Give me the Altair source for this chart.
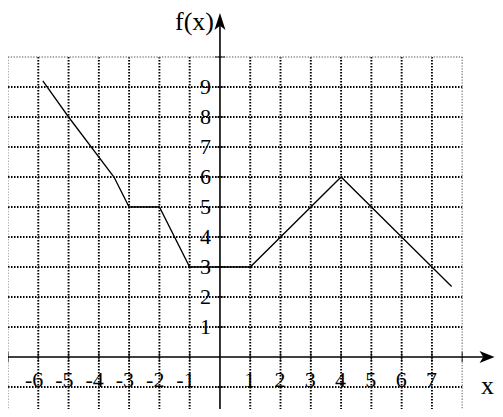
import altair as alt
import pandas as pd

# ---- data ----
fx_x = [-5.85, -5, -3.5, -3, -2, -1, 1, 4, 7, 7.65]
fx_y = [9.2, 8, 6, 5, 5, 3, 3, 6, 3, 2.35]

x_tick_labels = [-6, -5, -4, -3, -2, -1, 1, 2, 3, 4, 5, 6, 7]
y_tick_labels = [1, 2, 3, 4, 5, 6, 7, 8, 9]

grid_x = [-6, -5, -4, -3, -2, -1, 1, 2, 3, 4, 5, 6, 7]
grid_y = [-1, 1, 2, 3, 4, 5, 6, 7, 8, 9]
edge_x = [-7, 8]
edge_y = [10]
grid_bottom = -2
grid_top = 10
grid_left = -7
grid_right = 8

axis_tick_x = [-7, -6, -5, -4, -3, -2, -1, 1, 2, 3, 4, 5, 6, 7, 8]
axis_tick_y = [-1, 1, 2, 3, 4, 5, 6, 7, 8, 9, 10]

FONT = "Liberation Serif"

XS = alt.Scale(domain=[-7.0, 9.083], nice=False, zero=False)
YS = alt.Scale(domain=[-1.733, 11.633], nice=False, zero=False)


def X(f):
    return alt.X(f, type="quantitative", scale=XS, axis=None)


def Y(f):
    return alt.Y(f, type="quantitative", scale=YS, axis=None)


vgrid = pd.DataFrame({"x": grid_x, "y1": [grid_top] * len(grid_x), "y2": [grid_bottom] * len(grid_x)})
hgrid = pd.DataFrame({"y": grid_y, "x1": [grid_left] * len(grid_y), "x2": [grid_right] * len(grid_y)})
vedge = pd.DataFrame({"x": edge_x, "y1": [grid_top] * len(edge_x), "y2": [grid_bottom] * len(edge_x)})
hedge = pd.DataFrame({"y": edge_y, "x1": [grid_left] * len(edge_y), "x2": [grid_right] * len(edge_y)})

DOT = dict(color="black", strokeWidth=1.9, strokeDash=[1.5, 1.5])
EDGE = dict(color="#8a8a8a", strokeWidth=1.4, strokeDash=[1.3, 1.5])

vg = alt.Chart(vgrid).mark_rule(**DOT).encode(x=X("x"), y=Y("y1"), y2="y2")
hg = alt.Chart(hgrid).mark_rule(**DOT).encode(y=Y("y"), x=X("x1"), x2="x2")
ve = alt.Chart(vedge).mark_rule(**EDGE).encode(x=X("x"), y=Y("y1"), y2="y2")
he = alt.Chart(hedge).mark_rule(**EDGE).encode(y=Y("y"), x=X("x1"), x2="x2")

# axes
xaxis = alt.Chart(pd.DataFrame({"x1": [-7.0], "x2": [8.7], "y": [0]})).mark_rule(
    color="black", strokeWidth=1.6).encode(x=X("x1"), x2="x2", y=Y("y"))
yaxis = alt.Chart(pd.DataFrame({"y1": [-1.733], "y2": [11.1], "x": [0]})).mark_rule(
    color="black", strokeWidth=1.6).encode(y=Y("y1"), y2="y2", x=X("x"))

xticks = alt.Chart(pd.DataFrame({"x": axis_tick_x, "y": [0] * len(axis_tick_x)})).mark_tick(
    color="black", orient="vertical", size=10, thickness=1.3).encode(x=X("x"), y=Y("y"))
yticks = alt.Chart(pd.DataFrame({"y": axis_tick_y, "x": [0] * len(axis_tick_y)})).mark_tick(
    color="black", orient="horizontal", size=10, thickness=1.3).encode(x=X("x"), y=Y("y"))

xarrow = alt.Chart(pd.DataFrame({"x": [8.82], "y": [0]})).mark_point(
    shape="M1,0 L-1,-0.8 L-0.5,0 L-1,0.8 Z", filled=True, color="black", opacity=1,
    size=225, strokeWidth=0).encode(x=X("x"), y=Y("y"))
yarrow = alt.Chart(pd.DataFrame({"x": [0], "y": [11.18]})).mark_point(
    shape="M0,-1 L0.65,1 L0,0.5 L-0.65,1 Z", filled=True, color="black", opacity=1,
    size=289, strokeWidth=0).encode(x=X("x"), y=Y("y"))

# function
fline = alt.Chart(pd.DataFrame({"x": fx_x, "y": fx_y, "o": list(range(len(fx_x)))})).mark_line(
    color="black", strokeWidth=1.3).encode(x=X("x"), y=Y("y"), order="o:Q")

# labels
xlab = alt.Chart(pd.DataFrame({"x": x_tick_labels, "y": [0] * len(x_tick_labels),
                               "t": [str(v) for v in x_tick_labels]})).mark_text(
    font=FONT, fontSize=22, align="right", baseline="middle", dx=5, dy=23, color="black").encode(
    x=X("x"), y=Y("y"), text="t:N")
ylab = alt.Chart(pd.DataFrame({"y": y_tick_labels, "x": [0] * len(y_tick_labels),
                               "t": [str(v) for v in y_tick_labels]})).mark_text(
    font=FONT, fontSize=22, align="right", baseline="middle", dx=-9, dy=0, color="black").encode(
    x=X("x"), y=Y("y"), text="t:N")

fxlab = alt.Chart(pd.DataFrame({"x": [0], "y": [11.16], "t": ["f(x)"]})).mark_text(
    font=FONT, fontSize=26, align="right", baseline="middle", dx=-6, color="black").encode(
    x=X("x"), y=Y("y"), text="t:N")
xname = alt.Chart(pd.DataFrame({"x": [9.083], "y": [-0.97], "t": ["x"]})).mark_text(
    font=FONT, fontSize=26, align="right", baseline="middle", dx=-1, color="black").encode(
    x=X("x"), y=Y("y"), text="t:N")

chart = alt.layer(vg, hg, ve, he, fline, xaxis, yaxis, xticks, yticks, xarrow, yarrow,
                  xlab, ylab, fxlab, xname).properties(
    width=487, height=401, autosize=alt.AutoSizeParams(type="none"), padding=0,
    background="white"
).configure_view(stroke=None)

chart.save("out.html", embed_options={"renderer": "svg", "actions": False})
